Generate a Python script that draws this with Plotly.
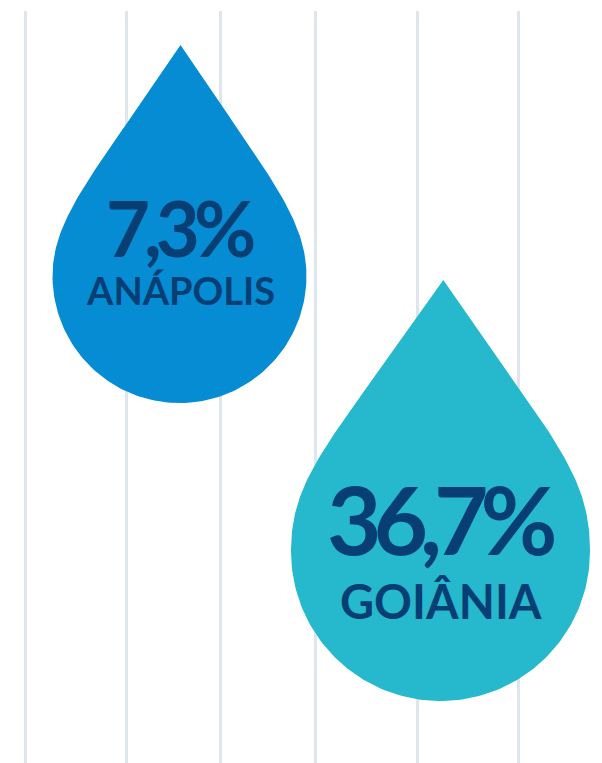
import numpy as np
import plotly.graph_objects as go

# ---- data ----
cities = ["ANÁPOLIS", "GOIÂNIA"]
shares = [7.3, 36.7]
grid_x = [25.6, 126.5, 220.5, 315.5, 417.5, 518.5]

# ---- style / layout (page-pixel-like coordinates) ----
W, H = 602, 763
OFF = 8          # page body margin of the html page
GRID_TOP = 11
drop_tip = [(180.5, 45), (443.3, 280)]
drop_center = [(179.5, 276), (440.5, 551.5)]
drop_radius = [127, 149.5]
drop_slope = [0.666, 0.697]      # dx/dy of the straight flanks near the tip
drop_ctrl = [(60, 150), (75, 200)]  # bezier handle lengths (side, tip)
drop_colors = ["#068CD3", "#26B8CC"]
text_color = "#073F75"
value_size = [76, 94]
label_size = [38, 47]
value_track = ["-6px", "-8px"]
label_track = ["0px", "0px"]
value_y = [227, 518.5]
label_y = [289.5, 601]
text_x = [180, 441]


def bezier(p0, p1, p2, p3, n=80):
    t = np.linspace(0, 1, n)[:, None]
    p0, p1, p2, p3 = map(np.array, (p0, p1, p2, p3))
    return (1 - t) ** 3 * p0 + 3 * (1 - t) ** 2 * t * p1 + 3 * (1 - t) * t ** 2 * p2 + t ** 3 * p3


def drop_outline(tip, center, r, slope, ctrl):
    tx, ty = tip
    cx, cy = center
    k, m = ctrl
    ux, uy = slope / np.hypot(slope, 1), 1 / np.hypot(slope, 1)
    # right flank: tip -> rightmost point
    right = bezier((tx, ty), (tx + ux * m, ty + uy * m), (cx + r, cy - k), (cx + r, cy))
    # bottom semicircle: rightmost -> leftmost (through bottom)
    a = np.linspace(0, np.pi, 120)
    bottom = np.column_stack([cx + r * np.cos(a), cy + r * np.sin(a)])
    # left flank: leftmost -> tip
    left = bezier((cx - r, cy), (cx - r, cy - k), (tx - ux * m, ty + uy * m), (tx, ty))
    pts = np.vstack([right, bottom, left])
    return pts[:, 0], pts[:, 1]


fig = go.Figure()
for i, city in enumerate(cities):
    xs, ys = drop_outline(drop_tip[i], drop_center[i], drop_radius[i], drop_slope[i], drop_ctrl[i])
    fig.add_trace(go.Scatter(x=xs, y=ys, mode="lines", fill="toself",
                             fillcolor=drop_colors[i], line=dict(width=0, color=drop_colors[i]),
                             hoverinfo="skip", showlegend=False))

annotations = []
for i, city in enumerate(cities):
    val = f"{shares[i]:.1f}".replace(".", ",") + "%"
    annotations.append(dict(x=text_x[i], y=value_y[i],
                            text=f'<span style="letter-spacing:{value_track[i]}">{val}</span>',
                            showarrow=False, xanchor="center", yanchor="middle",
                            font=dict(family="Lato", size=value_size[i], color=text_color, weight=700)))
    annotations.append(dict(x=text_x[i], y=label_y[i],
                            text=f'<span style="letter-spacing:{label_track[i]}">{city}</span>',
                            showarrow=False, xanchor="center", yanchor="middle",
                            font=dict(family="Lato", size=label_size[i], color=text_color, weight=700)))

fig.update_layout(
    width=W, height=H,
    margin=dict(l=0, r=0, t=GRID_TOP - OFF, b=0),
    paper_bgcolor="white", plot_bgcolor="white",
    xaxis=dict(range=[OFF, W + OFF], showgrid=True, gridcolor="#DDE5EE", gridwidth=2.5,
               tickvals=grid_x, showticklabels=False, zeroline=False, showline=False,
               ticks="", fixedrange=True),
    yaxis=dict(range=[H + OFF, GRID_TOP], showgrid=False, showticklabels=False, zeroline=False,
               showline=False, ticks="", fixedrange=True),
    annotations=annotations,
)

fig.write_html("out.html")
